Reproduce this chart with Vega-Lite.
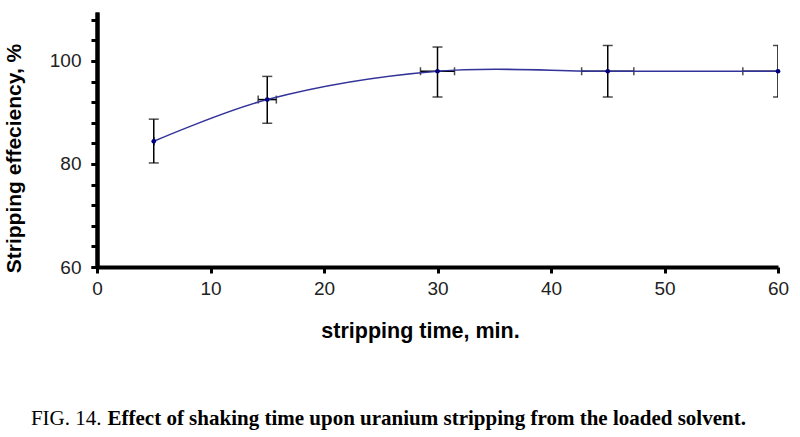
{
  "$schema": "https://vega.github.io/schema/vega-lite/v6.json",
  "width": 681,
  "height": 255,
  "autosize": "none",
  "padding": {"left": 97, "top": 12, "right": 22, "bottom": 170},
  "background": "white",
  "config": {
    "view": {"stroke": null},
    "axis": {"grid": false}
  },
  "data": {"values": [
    {"t": 5, "eff": 84.4, "lo": 80.2, "hi": 88.7, "tlo": 5, "thi": 5},
    {"t": 15, "eff": 92.5, "lo": 87.9, "hi": 97.0, "tlo": 14.2, "thi": 15.8},
    {"t": 30, "eff": 98.0, "lo": 93.0, "hi": 102.7, "tlo": 28.5, "thi": 31.5},
    {"t": 45, "eff": 98.0, "lo": 93.0, "hi": 103.0, "tlo": 42.7, "thi": 47.3},
    {"t": 60, "eff": 98.0, "lo": 93.0, "hi": 103.0, "tlo": 56.9, "thi": 63.1}
  ]},
  "resolve": {"scale": {"x": "independent"}, "axis": {"x": "independent", "y": "independent"}},
  "layer": [
    {
      "mark": {"type": "errorbar", "clip": true, "color": "black", "ticks": {"size": 10, "thickness": 1.5}, "rule": {"strokeWidth": 1.5}},
      "encoding": {
        "x": {"field": "t", "type": "quantitative", "scale": {"domain": [0, 60], "nice": false},
          "axis": {"orient": "bottom", "domain": false, "ticks": false, "labels": false, "title": "Effect of shaking time upon uranium stripping from the loaded solvent.",
            "titleFont": "Liberation Serif", "titleFontSize": 21, "titleFontWeight": "bold", "titleColor": "black",
            "titleX": 10, "titleY": 151, "titleAlign": "left", "titleBaseline": "middle", "titleAngle": 0}},
        "y": {"field": "lo", "type": "quantitative", "scale": {"domain": [60, 109.5], "nice": false, "zero": false},
          "axis": {"orient": "left", "values": [60, 80, 100], "labelOverlap": false,
            "domainColor": "black", "domainWidth": 4, "tickColor": "black", "tickWidth": 3, "tickSize": 6,
            "labelFont": "Liberation Sans", "labelFontSize": 19, "labelColor": "#222", "labelPadding": 10, "labelFlush": false,
            "title": "Stripping effeciency, %", "titleFont": "Liberation Sans", "titleFontSize": 21, "titleFontWeight": "bold", "titleColor": "black",
            "titleX": -83, "titleY": 146, "titleAngle": -90, "titleAlign": "center", "titleBaseline": "middle"}},
        "y2": {"field": "hi"}
      }
    },
    {
      "mark": {"type": "errorbar", "clip": true, "color": "black", "ticks": {"size": 8, "thickness": 1.5}, "rule": {"strokeWidth": 1.5}},
      "encoding": {
        "x": {"field": "tlo", "type": "quantitative", "scale": {"domain": [0, 60], "nice": false},
          "axis": {"orient": "bottom", "domain": false, "ticks": false, "labels": false, "title": "FIG. 14.",
            "titleFont": "Liberation Serif", "titleFontSize": 21, "titleFontWeight": "normal", "titleColor": "black",
            "titleX": 4, "titleY": 151, "titleAlign": "right", "titleBaseline": "middle", "titleAngle": 0}},
        "x2": {"field": "thi"},
        "y": {"field": "eff", "type": "quantitative", "scale": {"domain": [60, 109.5], "nice": false, "zero": false},
          "axis": {"orient": "left", "values": [60, 64, 68, 72, 76, 80, 84, 88, 92, 96, 100, 104, 108], "labels": false, "title": null,
            "domainColor": "black", "domainWidth": 4, "tickColor": "black", "tickWidth": 3, "tickSize": 6}}
      }
    },
    {
      "mark": {"type": "line", "interpolate": "catmull-rom", "color": "#333399", "strokeWidth": 1.5, "clip": true},
      "encoding": {
        "x": {"field": "t", "type": "quantitative", "scale": {"domain": [0, 60], "nice": false},
          "axis": {"orient": "bottom", "values": [0, 10, 20, 30, 40, 50, 60], "domainColor": "black", "domainWidth": 4, "tickColor": "black", "tickWidth": 3, "tickSize": 6,
            "labelFont": "Liberation Sans", "labelFontSize": 19, "labelColor": "#222", "labelPadding": 6, "labelFlush": false, "labelOverlap": false,
            "title": "stripping time, min.", "titleFont": "Liberation Sans", "titleFontSize": 21.5, "titleFontWeight": "bold", "titleColor": "black",
            "titleX": 323, "titleY": 64, "titleAlign": "center", "titleBaseline": "middle"}},
        "y": {"field": "eff", "type": "quantitative", "scale": {"domain": [60, 109.5], "nice": false, "zero": false}, "axis": null}
      }
    },
    {
      "mark": {"type": "point", "filled": true, "color": "#000080", "size": 22, "opacity": 1},
      "encoding": {
        "x": {"field": "t", "type": "quantitative", "scale": {"domain": [0, 60], "nice": false}, "axis": null},
        "y": {"field": "eff", "type": "quantitative", "scale": {"domain": [60, 109.5], "nice": false, "zero": false}, "axis": null}
      }
    }
  ]
}
